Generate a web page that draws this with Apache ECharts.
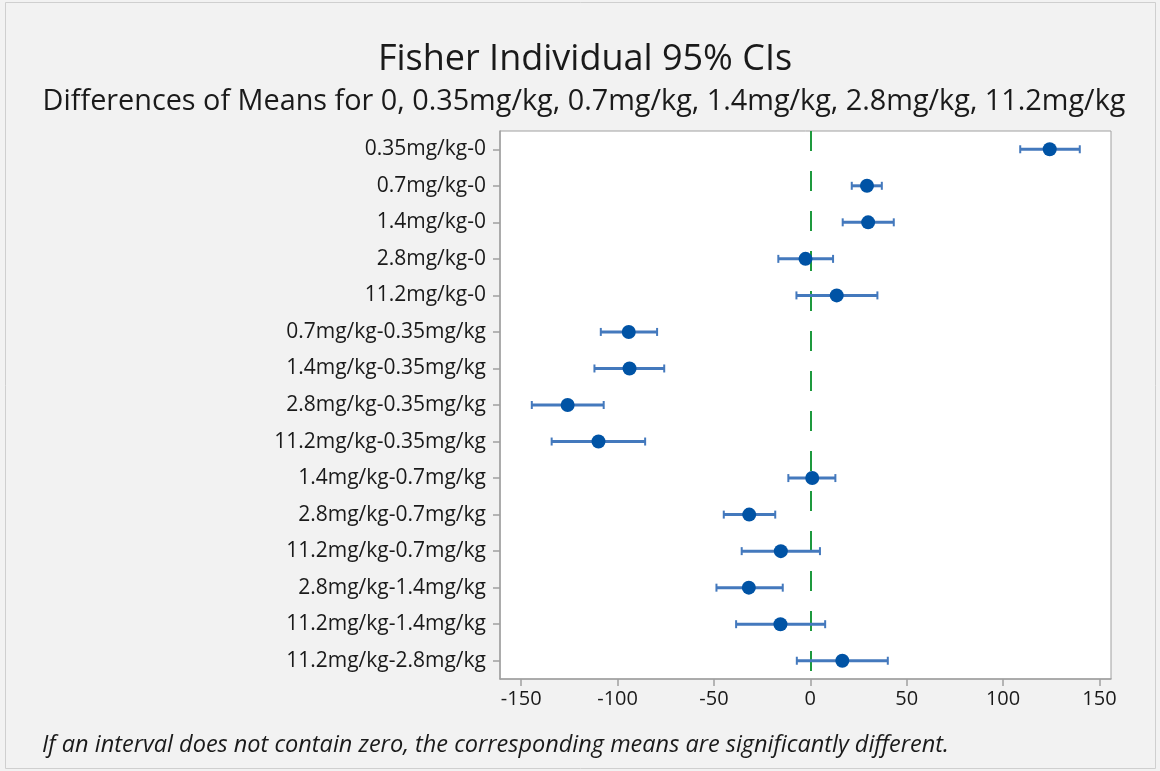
<!DOCTYPE html>
<html>
<head>
<meta charset="utf-8">
<script src="https://cdn.jsdelivr.net/npm/echarts@6/dist/echarts.min.js"></script>
<style>
html,body{margin:0;padding:0;background:#f2f2f2;}
#c{width:1160px;height:771px;}
</style>
</head>
<body>
<div id="c"></div>
<script>
const categories = ['0.35mg/kg-0', '0.7mg/kg-0', '1.4mg/kg-0', '2.8mg/kg-0', '11.2mg/kg-0',
  '0.7mg/kg-0.35mg/kg', '1.4mg/kg-0.35mg/kg', '2.8mg/kg-0.35mg/kg', '11.2mg/kg-0.35mg/kg',
  '1.4mg/kg-0.7mg/kg', '2.8mg/kg-0.7mg/kg', '11.2mg/kg-0.7mg/kg', '2.8mg/kg-1.4mg/kg',
  '11.2mg/kg-1.4mg/kg', '11.2mg/kg-2.8mg/kg'];
const diffs = [124.2, 29.4, 30.0, -2.5, 13.7, -94.2, -93.8, -125.9, -109.9, 1.0, -31.7, -15.3, -31.9, -15.5, 16.6];
const lower = [108.9, 21.5, 16.8, -16.6, -7.2, -108.7, -112.0, -144.5, -134.2, -11.4, -44.9, -35.6, -48.7, -38.5, -7.0];
const upper = [139.8, 37.1, 43.3, 11.8, 34.8, -79.5, -75.8, -107.2, -85.7, 13.0, -18.2, 5.0, -14.3, 7.7, 40.2];
const xTicks = [-150, -100, -50, 0, 50, 100, 150];

const chart = echarts.init(document.getElementById('c'));
const FONT = '"Open Sans", "Noto Sans", sans-serif';
const barColor = '#4479bd';
const dotColor = '#0053a5';

const errData = categories.map((c, i) => [i, lower[i], upper[i]]);
const dotData = categories.map((c, i) => [diffs[i], c]);

const option = {
  backgroundColor: '#f2f2f2',
  animation: false,
  textStyle: { fontFamily: FONT },
  title: [
    { text: 'Fisher Individual 95% CIs', left: 580, textAlign: 'center', top: 37,
      textStyle: { fontFamily: FONT, fontSize: 36, fontWeight: 'normal', color: '#1a1a1a' } },
    { text: 'Differences of Means for 0, 0.35mg/kg, 0.7mg/kg, 1.4mg/kg, 2.8mg/kg, 11.2mg/kg', left: 579, textAlign: 'center', top: 82,
      textStyle: { fontFamily: FONT, fontSize: 28.8, fontWeight: 'normal', color: '#1a1a1a' } },
    { text: 'If an interval does not contain zero, the corresponding means are significantly different.', left: 37, top: 729,
      textStyle: { fontFamily: FONT, fontSize: 23.5, fontStyle: 'italic', fontWeight: 'normal', color: '#1a1a1a' } }
  ],
  graphic: [
    { type: 'rect', shape: { x: 5.5, y: 2.5, width: 1150, height: 766 }, style: { fill: 'none', stroke: '#cfcfcf', lineWidth: 1 }, silent: true, z: -1 }
  ],
  grid: { left: 500, top: 131, width: 611, height: 548, show: true, backgroundColor: '#ffffff', borderColor: '#a0a0a0', borderWidth: 1 },
  xAxis: {
    type: 'value', min: -161, max: 156,
    axisLine: { show: true, onZero: false, lineStyle: { color: '#a0a0a0', width: 1.5 } },
    axisTick: { show: true, length: 7, lineStyle: { color: '#a0a0a0', width: 1.5 }, customValues: xTicks },
    axisLabel: { customValues: xTicks, fontSize: 20, color: '#1a1a1a', margin: 10, fontFamily: FONT },
    splitLine: { show: false }
  },
  yAxis: {
    type: 'category', data: categories, inverse: true,
    axisLine: { show: true, onZero: false, lineStyle: { color: '#a0a0a0', width: 1.5 } },
    axisTick: { show: true, alignWithLabel: true, length: 7, lineStyle: { color: '#a0a0a0', width: 1.5 } },
    axisLabel: { fontSize: 21, color: '#1a1a1a', margin: 14, fontFamily: FONT },
    splitLine: { show: false }
  },
  series: [
    {
      type: 'custom',
      data: errData,
      encode: { x: [1, 2], y: 0 },
      renderItem: function (params, api) {
        const yi = api.value(0);
        const lo = api.coord([api.value(1), yi]);
        const hi = api.coord([api.value(2), yi]);
        const h = 4;
        const st = { stroke: barColor, lineWidth: 3 };
        return {
          type: 'group',
          children: [
            { type: 'line', shape: { x1: lo[0], y1: lo[1], x2: hi[0], y2: hi[1] }, style: st },
            { type: 'line', shape: { x1: lo[0], y1: lo[1] - h, x2: lo[0], y2: lo[1] + h }, style: { stroke: barColor, lineWidth: 2 } },
            { type: 'line', shape: { x1: hi[0], y1: hi[1] - h, x2: hi[0], y2: hi[1] + h }, style: { stroke: barColor, lineWidth: 2 } }
          ]
        };
      },
      z: 3
    },
    {
      type: 'scatter',
      data: dotData,
      symbol: 'circle',
      symbolSize: 14,
      itemStyle: { color: dotColor, opacity: 1 },
      z: 4,
      markLine: {
        silent: true, symbol: 'none', label: { show: false },
        lineStyle: { color: '#1e9a3e', width: 2, type: [20, 20], dashOffset: 0 },
        data: [{ xAxis: 0 }],
        z: 1
      }
    }
  ]
};
chart.setOption(option);
</script>
</body>
</html>
